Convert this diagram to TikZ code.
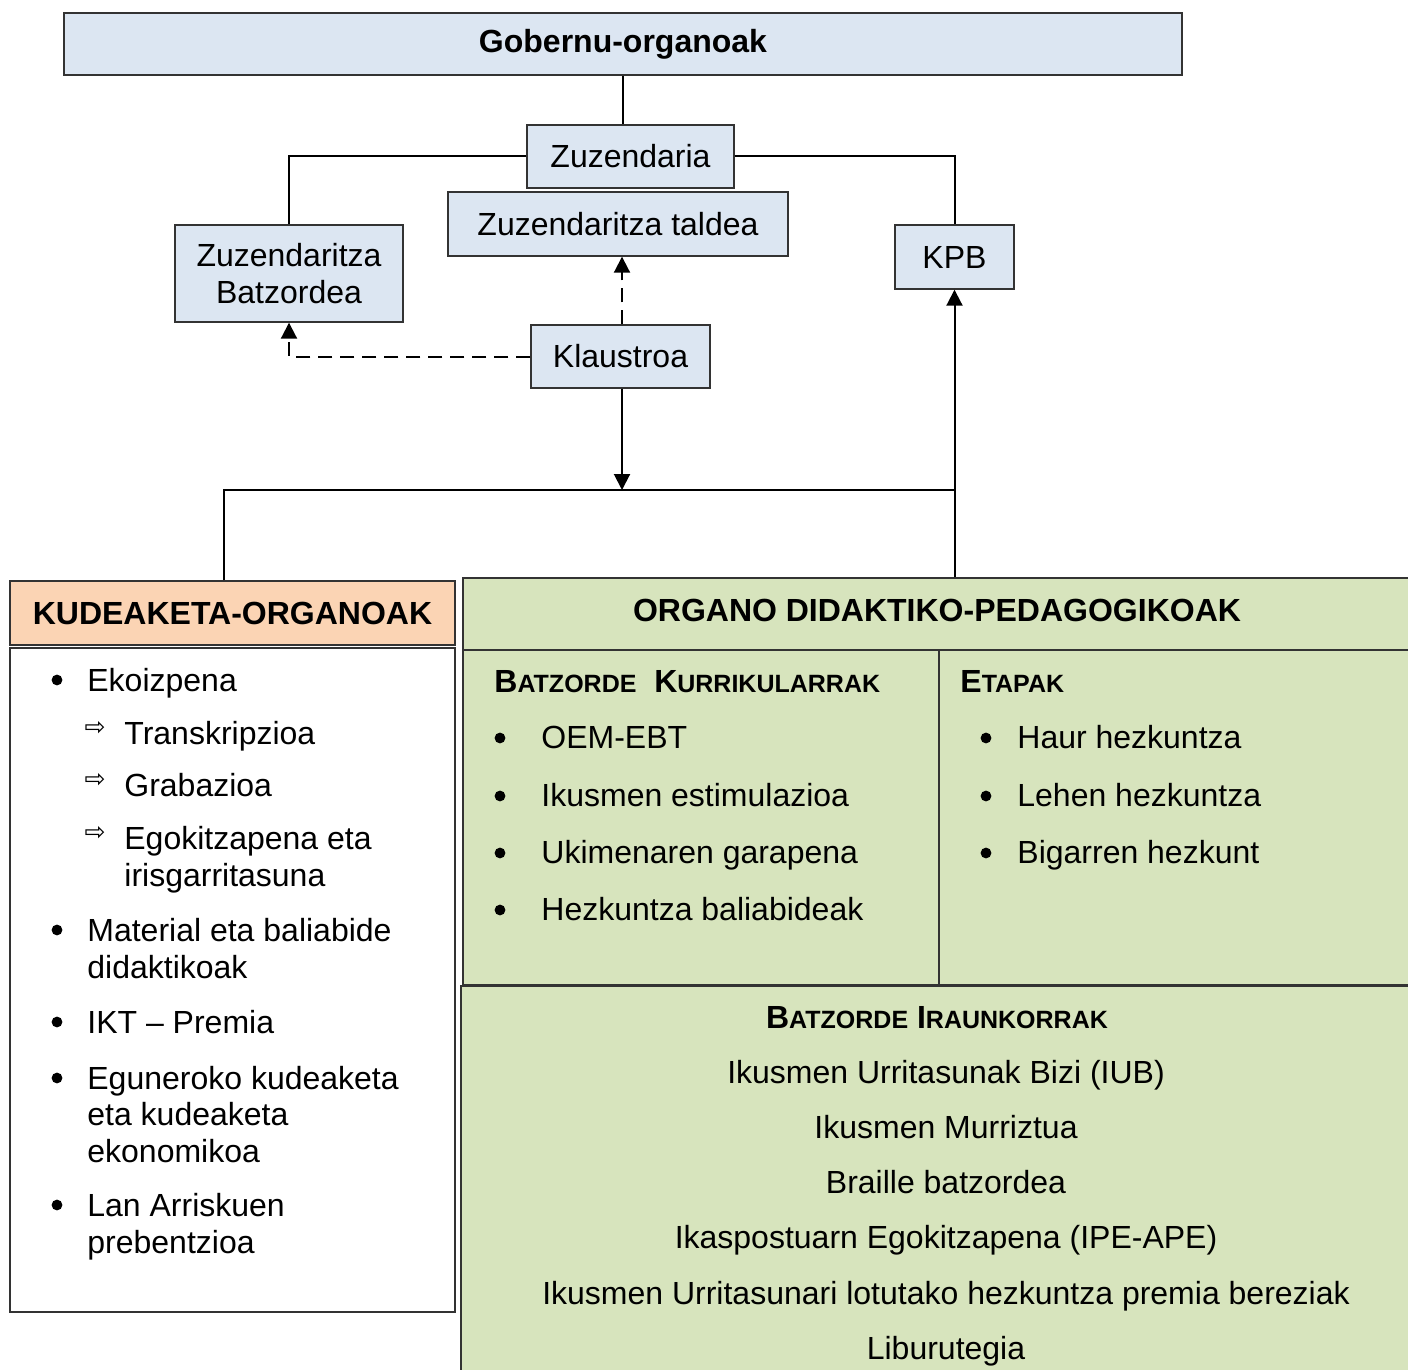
\documentclass[tikz,border=0pt]{standalone}
\usepackage{fontspec}
\setmainfont{Liberation Sans}
\newfontfamily\arrowfont{DejaVu Sans}
\usetikzlibrary{positioning,arrows.meta}

\definecolor{boxblue}{RGB}{220,230,242}
\definecolor{boxpeach}{RGB}{251,212,180}
\definecolor{boxgreen}{RGB}{215,228,189}
\newcommand{\fakesc}[2]{#1{\fontsize{12.5}{15}\selectfont #2}}

\tikzset{
  unit/.style={draw=black!80, line width=0.7pt, inner sep=0pt, font=\fontsize{16}{18.5}\selectfont},
  bluebox/.style={unit, fill=boxblue},
  peachbox/.style={unit, fill=boxpeach},
  greenbox/.style={unit, fill=boxgreen},
  item/.style={anchor=base west, inner sep=0pt, font=\fontsize{16}{18.5}\selectfont},
  dot/.style={circle, fill=black, inner sep=0pt, minimum size=5.4pt},
  subarrow/.style={anchor=base, inner sep=0pt, font=\arrowfont\fontsize{12.5}{12.5}\selectfont},
  centred/.style={anchor=base, inner sep=0pt, font=\fontsize{16}{18.5}\selectfont},
  link/.style={line width=1pt},
  dashlink/.style={line width=1pt, dash pattern=on 7pt off 4pt},
  tip/.style={-{Triangle[length=8pt,width=8pt]}},
}

\begin{document}
\begin{tikzpicture}[x=0.5pt, y=-0.5pt]
   \useasboundingbox (0,0) rectangle (1408,1370);

   % upper chart
   \node[bluebox, minimum width=559pt, minimum height=31pt, font=\fontsize{16}{18.5}\selectfont\bfseries] (gob) at (623,44) {Gobernu-organoak};
   \node[bluebox, minimum width=103.5pt, minimum height=31.5pt] (zuz) at (630.5,156.5) {Zuzendaria};
   \node[bluebox, minimum width=170pt, minimum height=32pt] (zuzt) at (618,224) {Zuzendaritza taldea};
   \node[bluebox, minimum width=114pt, minimum height=48.5pt, align=center] (zbatz) at (289,273.5) {Zuzendaritza\\Batzordea};
   \node[bluebox, minimum width=59.5pt, minimum height=32pt] (kpb) at (954.5,257) {KPB};
   \node[bluebox, minimum width=89.5pt, minimum height=31.5pt] (klaus) at (620.5,356.5) {Klaustroa};

   \coordinate (jl) at (224,490);
   \coordinate (jm) at (622,490);
   \coordinate (jr) at (954.5,490);

   % lower panels
   \node[peachbox, minimum width=222.5pt, minimum height=32pt, font=\fontsize{16}{18.5}\selectfont\bfseries] (kudh) at (232.5,613) {KUDEAKETA-ORGANOAK};
   \node[unit, fill=white, minimum width=222.5pt, minimum height=332pt] (kudl) at (232.5,980) {};
   \node[greenbox, minimum width=474.5pt, minimum height=36pt] (orgh) at (937.5,614) {};
   \node[greenbox, minimum width=238pt, minimum height=167.5pt] (bkur) at (701,817.5) {};
   \node[greenbox, minimum width=236.5pt, minimum height=167.5pt] (etap) at (1175.5,817.5) {};
   \node[greenbox, minimum width=475.5pt, minimum height=193pt] (birau) at (936.5,1179) {};

   \draw[link] (gob.south) -- (gob.south |- zuz.north);
   \draw[link] (zuz.west) -| (zbatz.north);
   \draw[link] (zuz.east) -| (kpb.north);
   \draw[link] (jl |- kudh.north) -- (jl) -- (jr);
   \draw[link, tip] (klaus.south -| jm) -- (jm);
   \draw[link, tip] (kpb.south |- orgh.north) -- (kpb.south);
   \draw[dashlink, tip] (klaus.west) -| (zbatz.south);
   \draw[dashlink, tip] (klaus.north -| jm) -- (jm |- zuzt.south);

   % kudeaketa list
   \node[dot] (kd1) at (57,680) {};
   \node[item] (k1) at (87,691) {Ekoizpena};
   \node[subarrow] (ka1) at (95,735) {⇨};
   \node[item] (k1a) at (124,744) {Transkripzioa};
   \node[subarrow] (ka2) at (95,787) {⇨};
   \node[item] (k1b) at (124,796) {Grabazioa};
   \node[subarrow] (ka3) at (95,840) {⇨};
   \node[item] (k1c) at (124,849) {Egokitzapena eta};
   \node[item] (k1d) at (124,886) {irisgarritasuna};
   \node[dot] (kd2) at (57,930) {};
   \node[item] (k2) at (87,941) {Material eta baliabide};
   \node[item] (k2b) at (87,978) {didaktikoak};
   \node[dot] (kd3) at (57,1022) {};
   \node[item] (k3) at (87,1033) {IKT – Premia};
   \node[dot] (kd4) at (57,1078) {};
   \node[item] (k4) at (87,1089) {Eguneroko kudeaketa};
   \node[item] (k4b) at (87,1125) {eta kudeaketa};
   \node[item] (k4c) at (87,1162) {ekonomikoa};
   \node[dot] (kd5) at (57,1205) {};
   \node[item] (k5) at (87,1216) {Lan Arriskuen};
   \node[item] (k5b) at (87,1253) {prebentzioa};

   % organo didaktiko-pedagogikoak
   \node[centred, font=\fontsize{16}{18.5}\selectfont\bfseries] (orgt) at (937,621) {ORGANO DIDAKTIKO-PEDAGOGIKOAK};
   \node[item, font=\fontsize{16}{18.5}\selectfont\bfseries] (bkurt) at (494,692) {\fakesc{B}{ATZORDE}\ \ \fakesc{K}{URRIKULARRAK}};
   \node[dot] (bd1) at (500,738) {};
   \node[item] (b1) at (541,748.5) {OEM-EBT};
   \node[dot] (bd2) at (500,796) {};
   \node[item] (b2) at (541,806.5) {Ikusmen estimulazioa};
   \node[dot] (bd3) at (500,853) {};
   \node[item] (b3) at (541,863.5) {Ukimenaren garapena};
   \node[dot] (bd4) at (500,910) {};
   \node[item] (b4) at (541,920.5) {Hezkuntza baliabideak};

   \node[item, font=\fontsize{16}{18.5}\selectfont\bfseries] (etapt) at (960,692) {\fakesc{E}{TAPAK}};
   \node[dot] (ed1) at (986,738) {};
   \node[item] (e1) at (1017,748.5) {Haur hezkuntza};
   \node[dot] (ed2) at (986,796) {};
   \node[item] (e2) at (1017,806.5) {Lehen hezkuntza};
   \node[dot] (ed3) at (986,853) {};
   \node[item] (e3) at (1017,863.5) {Bigarren hezkunt};

   \node[centred, font=\fontsize{16}{18.5}\selectfont\bfseries] (birt) at (937,1028.5) {\fakesc{B}{ATZORDE} \fakesc{I}{RAUNKORRAK}};
   \node[centred] (i1) at (946,1083.5) {Ikusmen Urritasunak Bizi (IUB)};
   \node[centred] (i2) at (946,1138.5) {Ikusmen Murriztua};
   \node[centred] (i3) at (946,1193.5) {Braille batzordea};
   \node[centred] (i4) at (946,1248.5) {Ikaspostuarn Egokitzapena (IPE-APE)};
   \node[centred] (i5) at (946,1304.5) {Ikusmen Urritasunari lotutako hezkuntza premia bereziak};
   \node[centred] (i6) at (946,1359.5) {Liburutegia};
\end{tikzpicture}
\end{document}
